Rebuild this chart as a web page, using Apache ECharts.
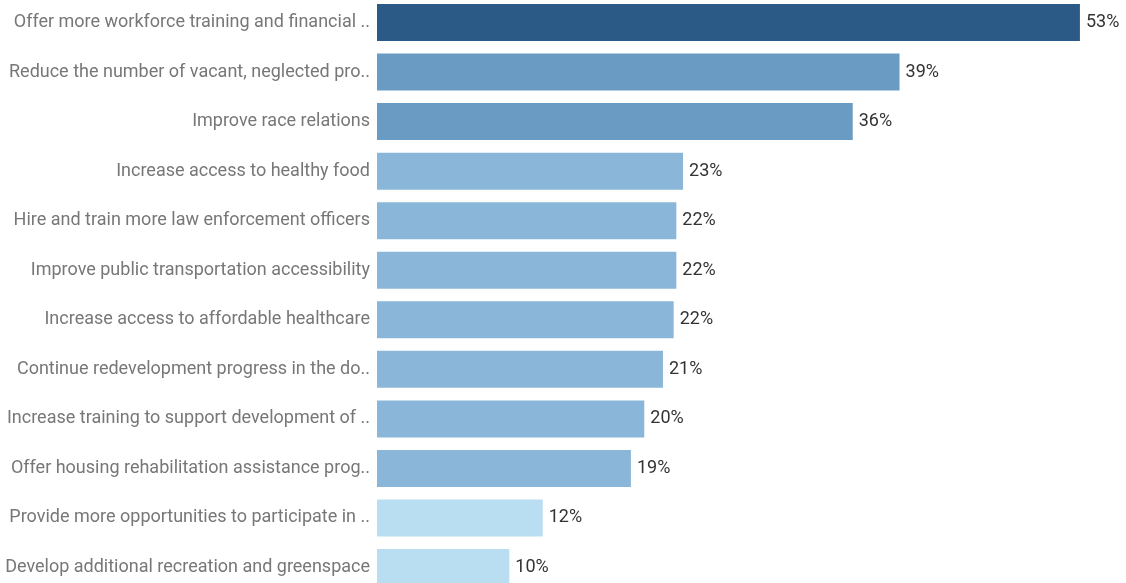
<!DOCTYPE html>
<html>
<head>
<meta charset="utf-8">
<script src="https://cdn.jsdelivr.net/npm/echarts@6/dist/echarts.min.js"></script>
<style>
html,body{margin:0;padding:0;background:#fff;}
#c{width:1126px;height:583px;}
</style>
</head>
<body>
<div id="c"></div>
<script>
const categories = [
  "Offer more workforce training and financial ..",
  "Reduce the number of vacant, neglected pro..",
  "Improve race relations",
  "Increase access to healthy food",
  "Hire and train more law enforcement officers",
  "Improve public transportation accessibility",
  "Increase access to affordable healthcare",
  "Continue redevelopment progress in the do..",
  "Increase training to support development of ..",
  "Offer housing rehabilitation assistance prog..",
  "Provide more opportunities to participate in ..",
  "Develop additional recreation and greenspace"
];
const values = [52.6, 39.1, 35.6, 22.9, 22.4, 22.4, 22.2, 21.4, 20.0, 19.0, 12.4, 9.9];
const colors = ["#2C5A86", "#6A9BC3", "#6A9BC3", "#8AB7D9", "#8AB7D9", "#8AB7D9", "#8AB7D9", "#8AB7D9", "#8AB7D9", "#8AB7D9", "#B9DDF1", "#B9DDF1"];

const chart = echarts.init(document.getElementById('c'));
chart.setOption({
  animation: false,
  grid: {left: 377, right: 14, top: -2.3, height: 594.6, containLabel: false, outerBoundsMode: 'none'},
  xAxis: {type: 'value', min: 0, max: 55, show: false},
  yAxis: {
    type: 'category', data: categories, inverse: true,
    axisLine: {show: false}, axisTick: {show: false},
    axisLabel: {color: '#777', fontSize: 18, margin: 7, fontFamily: 'Roboto', padding: [5, 0, 0, 0]}
  },
  series: [{
    type: 'bar', barWidth: 37,
    data: values.map((v, i) => ({value: v, itemStyle: {color: colors[i]}})),
    label: {show: true, position: 'right', distance: 6, color: '#333', fontSize: 18, fontFamily: 'Roboto',
      padding: [5, 0, 0, 0], formatter: p => Math.round(p.value) + '%'}
  }]
});
</script>
</body>
</html>
